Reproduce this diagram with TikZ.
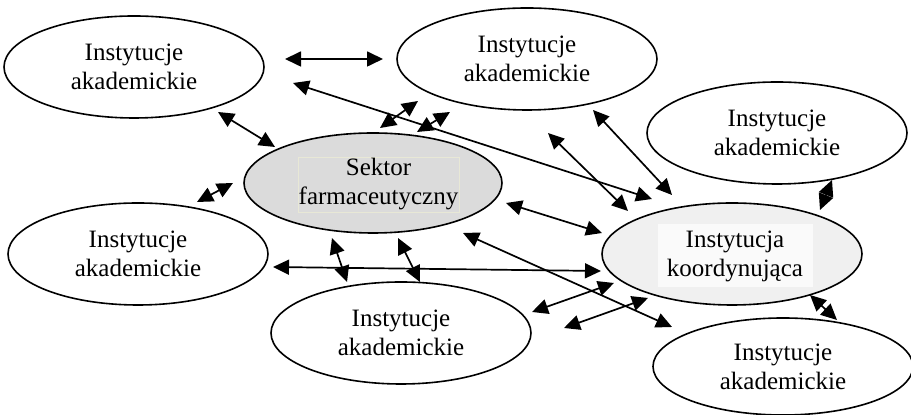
\documentclass[tikz,border=0pt]{standalone}
\usepackage{fontspec}
\setmainfont{Liberation Serif}
\usepackage{tikz}
\usetikzlibrary{arrows.meta, positioning, shapes.geometric}
\tikzset{x = 0.5pt, y = -0.5pt,
         every node/.style = {font = \fontsize{12.5}{14.5}\selectfont, align = center},
         inst/.style = {ellipse, draw, line width = 0.8pt, inner sep = 0pt,
                        minimum width = 130pt, minimum height = 51pt},
         link/.style = {line width = 0.85pt,
                        {Triangle[length = 8pt, width = 7.5pt]}-{Triangle[length = 8pt, width = 7.5pt]}}}
\definecolor{sektorgray}{gray}{0.86}
\definecolor{koordgray}{gray}{0.94}
\definecolor{boxline}{RGB}{232,232,214}

\begin{document}
\begin{tikzpicture}
        \useasboundingbox (0,0) rectangle (911,415);

        \node[inst]                    (ia1) at (134,67)   {Instytucje\\akademickie};
        \node[inst]                    (ia2) at (527,59)   {Instytucje\\akademickie};
        \node[inst]                    (ia3) at (777,133)  {Instytucje\\akademickie};
        \node[inst]                    (ia4) at (138,254)  {Instytucje\\akademickie};
        \node[inst]                    (ia5) at (401,333)  {Instytucje\\akademickie};
        \node[inst, minimum height = 48.5pt]
                                       (ia6) at (783,366.5) {Instytucje\\akademickie};
        \node[inst, fill = sektorgray, minimum width = 129pt, minimum height = 50pt]
                                       (sf)  at (373,183)  {};
        \node[draw = boxline, fill = sektorgray, minimum width = 80.5pt, minimum height = 27.5pt, inner sep = 0pt]
                                       (sft) at (378.5,184.5) {Sektor\\farmaceutyczny};
        \node[inst, fill = koordgray]  (ik)  at (732,254)  {};
        \node[fill = gray!4, minimum width = 77.5pt, minimum height = 31.5pt, inner sep = 0pt]
                                       (ikt) at (735,256)  {Instytucja\\koordynująca};

        % free ends of the arrows
        \coordinate (a1) at (285,59);   \coordinate (b1) at (383,59);
        \coordinate (a2) at (293,83);   \coordinate (b2) at (652,199);
        \coordinate (a3) at (218,112);  \coordinate (b3) at (275,147);
        \coordinate (a4) at (380,128);  \coordinate (b4) at (418,101);
        \coordinate (a5) at (417,132);  \coordinate (b5) at (450,112);
        \coordinate (a6) at (593,110);  \coordinate (b6) at (672,195);
        \coordinate (a7) at (548,133);  \coordinate (b7) at (628,211);
        \coordinate (a8) at (832,180);  \coordinate (b8) at (820,210);
        \coordinate (a9) at (506,203);  \coordinate (b9) at (602,233);
        \coordinate (a10) at (463,233); \coordinate (b10) at (672,327);
        \coordinate (a11) at (273,267); \coordinate (b11) at (601,271);
        \coordinate (a12) at (332,238); \coordinate (b12) at (347,282);
        \coordinate (a13) at (398,238); \coordinate (b13) at (420,282);
        \coordinate (a14) at (532,312); \coordinate (b14) at (614,283);
        \coordinate (a15) at (564,328); \coordinate (b15) at (648,298);
        \coordinate (a16) at (810,295); \coordinate (b16) at (837,320);
        \coordinate (a17) at (197,202); \coordinate (b17) at (233,183);

        \path[link] (a1) edge (b1)   (a2) edge (b2)   (a3) edge (b3)
                    (a4) edge (b4)   (a5) edge (b5)   (a6) edge (b6)
                    (a7) edge (b7)   (a8) edge (b8)   (a9) edge (b9)
                    (a10) edge (b10) (a11) edge (b11) (a12) edge (b12)
                    (a13) edge (b13) (a14) edge (b14) (a15) edge (b15)
                    (a16) edge (b16) (a17) edge (b17);
      \end{tikzpicture}
\end{document}
